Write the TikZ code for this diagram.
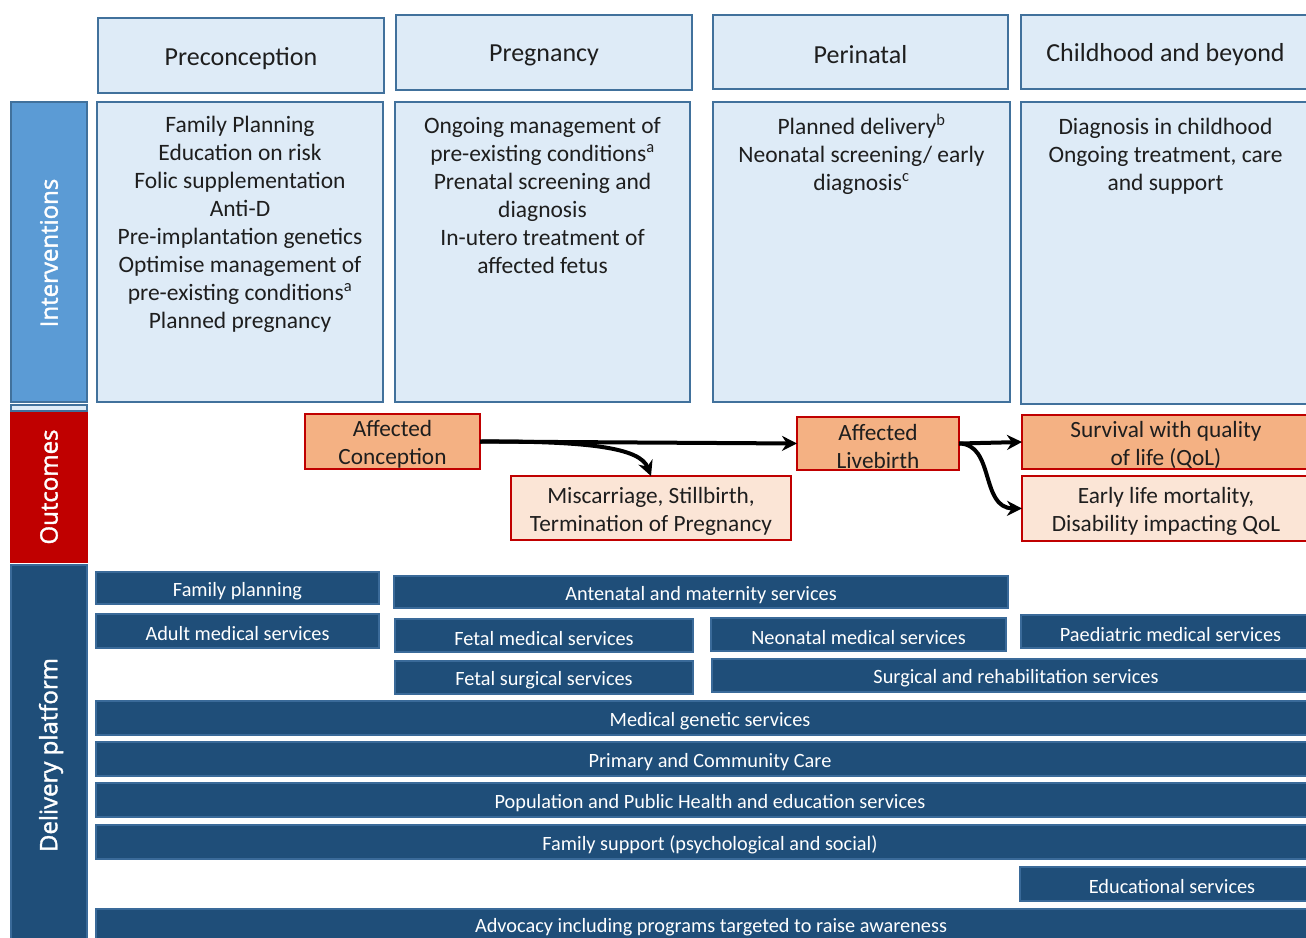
\documentclass[tikz,border=0pt]{standalone}
\usepackage{fontspec}
\setmainfont{Carlito}
\newfontfamily\sidefont[FakeBold=1.6]{Open Sans}
\usetikzlibrary{arrows.meta}
\definecolor{hdrfill}{HTML}{DEEBF7}
\definecolor{hdrline}{HTML}{41719C}
\definecolor{intfill}{HTML}{5B9BD5}
\definecolor{outred}{HTML}{C00000}
\definecolor{dlvfill}{HTML}{1F4E79}
\definecolor{dlvline}{HTML}{3A6A99}
\definecolor{affill}{HTML}{F4B183}
\definecolor{lightor}{HTML}{FBE5D6}
\definecolor{txt}{HTML}{1E1E1E}
% box with centred text: name, style, x1, y1, x2, y2, text, text xshift
\newcommand\rbox[8]{%
  \node[#2, anchor=north west, minimum width={#5-#3}, minimum height={#6-#4}] (#1) at (#3,#4) {};
  \node[#2, draw=none, fill=none] (#1t) at ([xshift=#8, yshift=-3pt]#1.center) {#7};}
% empty box: name, style, x1, y1, x2, y2
\newcommand\ebox[6]{%
  \node[#2, anchor=north west, minimum width={#5-#3}, minimum height={#6-#4}] (#1) at (#3,#4) {};}
\tikzset{
  base/.style={inner sep=0pt, outer sep=0pt, align=center},
  hdr/.style={base, fill=hdrfill, draw=hdrline, line width=2.2pt, text=txt, font=\fontsize{26}{30}\selectfont},
  intv/.style={base, fill=hdrfill, draw=hdrline, line width=2.2pt},
  intxt/.style={base, text=txt, font=\fontsize{23.5}{28}\selectfont, anchor=north},
  side/.style={base, line width=1.5pt, text=white, font=\sidefont\fontsize{24}{28}\selectfont},
  outA/.style={base, fill=affill, draw=outred, line width=2.2pt, text=txt, font=\fontsize{23.3}{28}\selectfont},
  outB/.style={base, fill=lightor, draw=outred, line width=2.2pt, text=txt, font=\fontsize{23.3}{28}\selectfont},
  dlv/.style={base, fill=dlvfill, draw=dlvline, line width=1.5pt, text=white, font=\fontsize{20.3}{24}\selectfont},
  arr/.style={line width=4pt, -{Stealth[length=15pt,width=15pt]}}
}
\begin{document}
\begin{tikzpicture}[x=1pt,y=-1pt]
\useasboundingbox (0,0) rectangle (1306,937);
\clip (0,0) rectangle (1306,937);
% headers
\rbox{h1}{hdr}{98}{18}{384}{93}{Preconception}{0pt}
\rbox{h2}{hdr}{396}{15}{692}{90}{Pregnancy}{0pt}
\rbox{h3}{hdr}{713}{15}{1008}{89}{Perinatal}{0pt}
\rbox{h4}{hdr}{1021}{15}{1320}{89}{Childhood and beyond}{-5pt}
% intervention boxes
\ebox{i1}{intv}{97}{102}{383}{402}
\ebox{i2}{intv}{395}{102}{690}{402}
\ebox{i3}{intv}{713}{102}{1010}{402}
\ebox{i4}{intv}{1021}{102}{1320}{404}
\node[intxt] (t1) at ([yshift=-14pt]i1.north) {Family Planning\\Education on risk\\Folic supplementation\\Anti-D\\Pre-implantation genetics\\Optimise management of\\pre-existing conditions\textsuperscript{a}\\Planned pregnancy};
\node[intxt] (t2) at ([yshift=-15pt]i2.north) {Ongoing management of\\pre-existing conditions\textsuperscript{a}\\Prenatal screening and\\diagnosis\\In-utero treatment of\\affected fetus};
\node[intxt] (t3) at ([yshift=-12pt]i3.north) {Planned delivery\textsuperscript{b}\\Neonatal screening/ early\\diagnosis\textsuperscript{c}};
\node[intxt] (t4) at ([xshift=-5pt,yshift=-16pt]i4.north) {Diagnosis in childhood\\Ongoing treatment, care\\and support};
% side bars
\ebox{sI}{side, fill=intfill, draw=hdrline}{11}{102}{87}{402}
\ebox{sS}{side, fill=hdrfill, draw=hdrline}{11}{405}{87}{411}
\ebox{sO}{side, fill=outred, draw=outred}{11}{413}{87}{562}
\ebox{sD}{side, fill=dlvfill, draw=dlvline}{11}{565}{87}{950}
\node[side, rotate=90] (lI) at (49,253) {Interventions};
\node[side, rotate=90] (lO) at (49,487) {Outcomes};
\node[side, rotate=90] (lD) at (51,755) {Delivery platform};
% outcomes
\rbox{ac}{outA}{305}{414}{480}{469}{Affected\\Conception}{0pt}
\rbox{mis}{outB}{511}{476}{791}{540}{Miscarriage, Stillbirth,\\Termination of Pregnancy}{0pt}
\rbox{al}{outA}{797}{417}{959}{470}{Affected\\Livebirth}{0pt}
\rbox{sq}{outA}{1022}{415}{1320}{469}{Survival with quality\\of life (QoL)}{-5pt}
\rbox{el}{outB}{1022}{476}{1320}{541}{Early life mortality,\\Disability impacting QoL}{-5pt}
\draw[arr] (ac.east) -- (al.west);
\draw[arr] (ac.east) .. controls (590,441) and (640,448) .. (mis.north);
\draw[arr] (al.east) -- (sq.west);
\draw[arr] (al.east) .. controls (995,444) and (980,508) .. (el.west);
% delivery platform
\rbox{d1}{dlv}{96}{572}{379}{604}{Family planning}{0pt}
\rbox{d2}{dlv}{96}{614}{379}{648}{Adult medical services}{0pt}
\rbox{d3}{dlv}{394}{576}{1008}{608}{Antenatal and maternity services}{0pt}
\rbox{d4}{dlv}{395}{619}{693}{652}{Fetal medical services}{0pt}
\rbox{d5}{dlv}{711}{618}{1006}{651}{Neonatal medical services}{0pt}
\rbox{d6}{dlv}{1021}{615}{1320}{648}{Paediatric medical services}{0pt}
\rbox{d7}{dlv}{395}{661}{693}{694}{Fetal surgical services}{0pt}
\rbox{d8}{dlv}{712}{659}{1320}{692}{Surgical and rehabilitation services}{0pt}
\rbox{d9}{dlv}{96}{701}{1320}{735}{Medical genetic services}{2pt}
\rbox{d10}{dlv}{96}{742}{1320}{776}{Primary and Community Care}{2pt}
\rbox{d11}{dlv}{96}{783}{1320}{817}{Population and Public Health and education services}{2pt}
\rbox{d12}{dlv}{96}{825}{1320}{859}{Family support (psychological and social)}{2pt}
\rbox{d13}{dlv}{1020}{867}{1320}{901}{Educational services}{2pt}
\ebox{d14}{dlv}{96}{909}{1320}{950}
\node[base, text=white, font=\fontsize{20.3}{24}\selectfont] (d14t) at (711,927) {Advocacy including programs targeted to raise awareness};
\end{tikzpicture}
\end{document}
